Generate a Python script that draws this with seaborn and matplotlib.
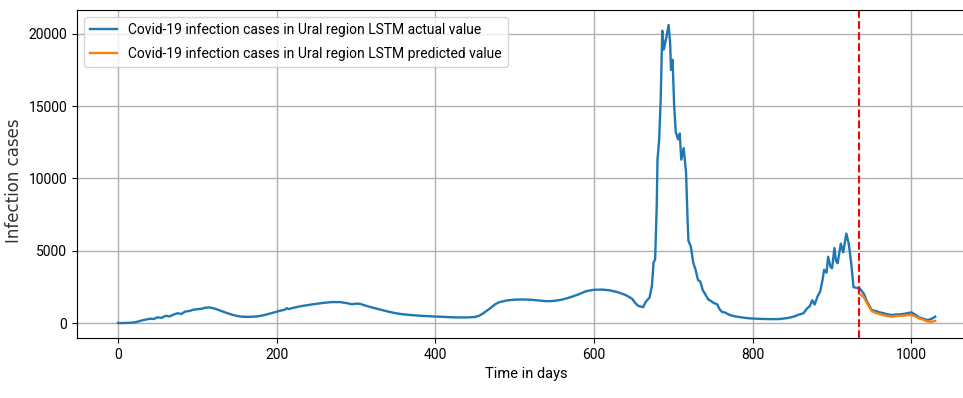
import matplotlib
matplotlib.use("Agg")
import matplotlib.pyplot as plt
import seaborn as sns
import pandas as pd

# actual values (day, cases)
actual_days = [0, 5, 10, 15, 20, 25, 30, 35, 40, 45, 50, 55, 60, 65, 70, 75, 80, 85, 90, 95,
               100, 105, 110, 115, 120, 125, 130, 135, 140, 145, 150, 155, 160, 165, 170, 175,
               180, 185, 190, 195, 200, 205, 210, 213, 215, 220, 230, 240, 250, 260, 270, 280,
               290, 295, 300, 305, 310, 320, 330, 340, 350, 360, 370, 380, 390, 400, 410, 420,
               430, 440, 450, 455, 460, 465, 470, 475, 480, 490, 500, 510, 520, 530, 540, 550,
               560, 570, 580, 590, 600, 610, 620, 630, 640, 648, 652, 656, 662, 665, 670, 673,
               675, 677, 679, 680, 682, 684, 686, 688, 691, 694, 696, 697, 699, 701, 703, 706,
               708, 710, 713, 716, 718, 719, 722, 725, 728, 731, 734, 737, 740, 744, 747, 751,
               755, 758, 761, 765, 770, 776, 785, 795, 805, 815, 825, 835, 845, 852, 858, 864,
               868, 872, 875, 878, 882, 885, 888, 890, 893, 895, 898, 900, 903, 905, 907, 911,
               914, 918, 921, 924, 927, 931, 935, 940, 944, 950, 955, 960, 965, 970, 975, 980,
               985, 990, 995, 1000, 1005, 1010, 1015, 1020, 1025, 1030]
actual_cases = [30, 20, 30, 40, 60, 120, 200, 260, 320, 300, 420, 380, 520, 480, 600, 700, 650, 820, 850, 940,
                980, 1000, 1080, 1100, 1050, 960, 860, 760, 670, 580, 510, 470, 450, 450, 460, 480,
                520, 580, 650, 730, 800, 880, 940, 1050, 980, 1060, 1180, 1270, 1350, 1420, 1470, 1470,
                1380, 1320, 1360, 1350, 1260, 1100, 960, 820, 700, 620, 570, 530, 500, 470, 450, 420,
                410, 410, 440, 520, 680, 880, 1080, 1300, 1450, 1580, 1640, 1650, 1630, 1580, 1530, 1550,
                1640, 1800, 1990, 2220, 2320, 2330, 2280, 2150, 1950, 1700, 1400, 1200, 1120, 1480, 1780, 2600,
                4200, 4400, 8000, 11300, 12600, 15400, 20200, 18900, 19700, 20600, 19300, 17500, 18200, 15000, 13200, 12700,
                13100, 11300, 12100, 10400, 7000, 5700, 5300, 4200, 3700, 3000, 2880, 2300, 2030, 1650, 1560, 1400,
                1330, 1000, 800, 750, 600, 500, 420, 350, 320, 300, 290, 300, 380, 470, 600, 700,
                1000, 1200, 1600, 1300, 1900, 2200, 3000, 3700, 3500, 4600, 3900, 3800, 5200, 4300, 4150, 5500,
                4900, 6200, 5500, 4200, 2500, 2450, 2400, 2050, 1500, 920, 850, 760, 700, 620, 580, 610,
                620, 650, 700, 760, 600, 400, 320, 230, 300, 460]

# LSTM predictions on the test part
pred_days = [934, 937, 940, 943, 946, 950, 955, 960, 965, 970, 975, 980, 985, 990, 995, 1000,
             1005, 1010, 1015, 1020, 1025, 1030]
pred_cases = [2050, 1950, 1800, 1500, 1200, 850, 720, 640, 560, 500, 460, 500, 520, 530, 560, 580,
              480, 340, 250, 130, 110, 170]

split_day = 934

df_actual = pd.DataFrame({"day": actual_days, "cases": actual_cases})
df_pred = pd.DataFrame({"day": pred_days, "cases": pred_cases})

plt.rcParams["font.family"] = ["Roboto", "DejaVu Sans"]

fig = plt.figure(figsize=(9.63, 3.98), dpi=100)
ax = fig.add_axes([0.08, 0.1508, 0.9336, 0.824])

sns.lineplot(data=df_actual, x="day", y="cases", ax=ax, color="#1f77b4", linewidth=1.7,
             label="Covid-19 infection cases in Ural region LSTM actual value")
sns.lineplot(data=df_pred, x="day", y="cases", ax=ax, color="#ff7f0e", linewidth=1.7,
             label="Covid-19 infection cases in Ural region LSTM predicted value")
ax.axvline(split_day, color="red", linestyle="--", linewidth=1.5)

ax.grid(True, color="#b0b0b0", linewidth=1.0)
ax.set_axisbelow(True)
ax.tick_params(labelsize=10)
ax.set_xlabel("Time in days", fontsize=10.5)
ax.set_ylabel("Infection cases", fontsize=12, family="DejaVu Sans", color="#333333")
ax.yaxis.set_label_coords(-0.06, 0.48)
ax.legend(loc="upper left", fontsize=10, labelspacing=0.75, handlelength=2.0)

fig.savefig("out.png", dpi=100)
